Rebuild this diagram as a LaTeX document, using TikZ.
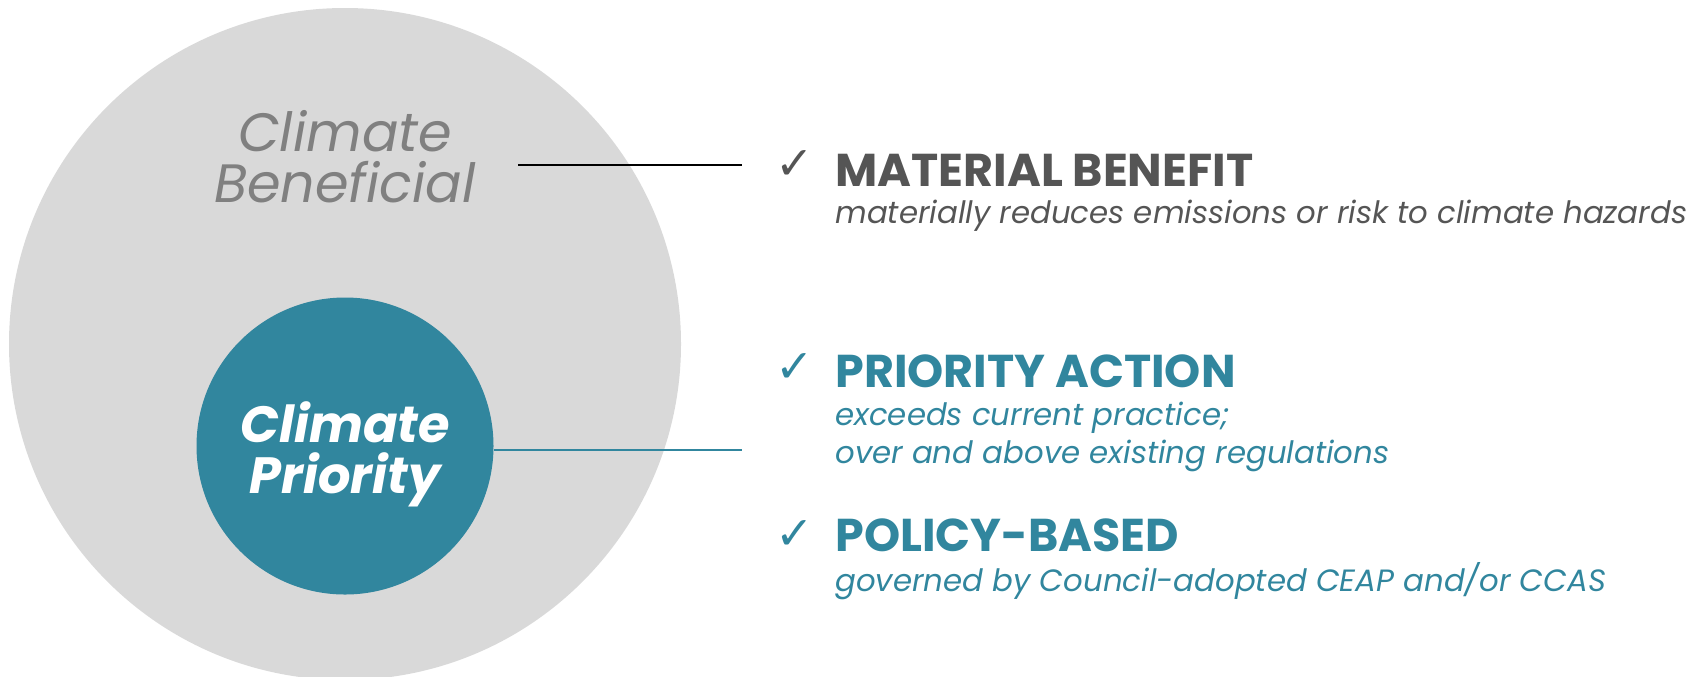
\documentclass[tikz,border=0pt]{standalone}
\usepackage{fontspec}
\setmainfont{Poppins}
\newfontfamily\symfont{DejaVu Sans}
\definecolor{cgray}{HTML}{D9D9D9}
\definecolor{cteal}{HTML}{31869E}
\definecolor{ctitle}{HTML}{555555}
\definecolor{cbenef}{HTML}{808080}
\tikzset{
  title/.style={anchor=base west, inner sep=0pt, font=\fontsize{23}{23}\selectfont\bfseries},
  sub/.style={anchor=base west, inner sep=0pt, font=\fontsize{15.4}{15.4}\selectfont\itshape\mdseries},
  tick/.style={anchor=base west, inner sep=0pt, font=\fontsize{23}{23}\selectfont\symfont},
  lbl/.style={align=center, inner sep=0pt},
  prio/.style={anchor=base, inner sep=0pt, text=white, font=\fontsize{25.5}{25.5}\selectfont\bfseries\itshape}
}
\begin{document}
\begin{tikzpicture}[x=0.5pt,y=-0.5pt]
\useasboundingbox (0,0) rectangle (1700,676);
\fill[cgray] (345,344) circle[radius=336];
\node[circle, fill=cteal, minimum size=148.5pt, inner sep=0pt] (cp) at (345,446) {};
\node[prio] (cpt1) at (345,442) {Climate};
\node[prio] (cpt2) at (345,493) {Priority};
\node[lbl, text=cbenef, font=\fontsize{27}{25.5}\selectfont\itshape] (cb) at (345,157) {Climate\\Beneficial};
\coordinate (b1) at (518,165);
\coordinate (b2) at (742,165);
\coordinate (t2) at (742,450);
\draw[black, line width=1.2pt] (b1) -- (b2);
\draw[cteal, line width=1.2pt] (cp.east |- t2) -- (t2);
% items
\node[tick, text=ctitle] (k1) at (775,179) {✓};
\node[title, text=ctitle] (h1) at (835,186) {MATERIAL BENEFIT};
\node[sub, text=ctitle] (s1) at (835,223) {materially reduces emissions or risk to climate hazards};
\node[tick, text=cteal] (k2) at (775,382) {✓};
\node[title, text=cteal] (h2) at (835,387) {PRIORITY ACTION};
\node[sub, text=cteal] (s2a) at (835,425) {exceeds current practice;};
\node[sub, text=cteal] (s2b) at (835,463) {over and above existing regulations};
\node[tick, text=cteal] (k3) at (775,549) {✓};
\node[title, text=cteal] (h3) at (835,551) {POLICY-BASED};
\node[sub, text=cteal] (s3) at (835,591) {governed by Council-adopted CEAP and/or CCAS};
\end{tikzpicture}
\end{document}
